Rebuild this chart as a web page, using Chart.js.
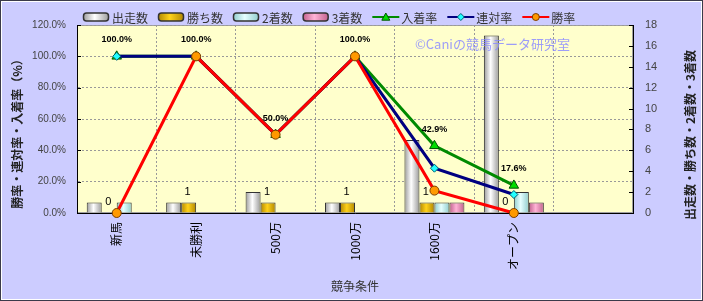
<!DOCTYPE html>
<html>
<head>
<meta charset="utf-8">
<script src="https://cdn.jsdelivr.net/npm/chart.js@4/dist/chart.umd.min.js"></script>
<style>
html, body { margin: 0; padding: 0; background: #fff; }
#wrap { width: 703px; height: 301px; }
</style>
</head>
<body>
<div id="wrap"><canvas id="chart" width="703" height="301"></canvas></div>
<script>
// data
const categories = ['新馬', '未勝利', '500万', '1000万', '1600万', 'オープン', ''];
const starts  = [1, 1, 2, 1, 7, 17, null];
const wins    = [0, 1, 1, 1, 1, 0, null];
const seconds = [1, 0, 0, 0, 1, 2, null];
const thirds  = [0, 0, 0, 0, 1, 1, null];
const placeRate  = [100, 100, 50, 100, 42.9, 17.6, null];
const rentaiRate = [100, 100, 50, 100, 28.6, 11.8, null];
const winRate    = [0, 100, 50, 100, 14.3, 0, null];
const rateTicks  = [0, 20, 40, 60, 80, 100, 120];
const countTicks = [0, 2, 4, 6, 8, 10, 12, 14, 16, 18];

const JP = "'Noto Sans CJK JP', sans-serif";
const LAT = "'Liberation Sans', Arial, sans-serif";
const CAT_PCT = 0.755;

// cylinder-like fills: edge, centre, edge
const GRAY  = ['#9a9a9a', '#ffffff', '#9a9a9a'];
const GOLD  = ['#b08600', '#ffd21a', '#b08600'];
const CYAN  = ['#8fcccc', '#e6ffff', '#8fcccc'];
const PINK  = ['#c0608c', '#ffb3d6', '#c0608c'];

function barFill(stops, slot) {
    return function (c) {
        const chart = c.chart;
        const x = chart.scales.x;
        if (!chart.chartArea || !x || c.dataIndex === undefined) return stops[1];
        const catW = x.width / categories.length;
        const barW = catW * CAT_PCT / 4;
        const left = x.getPixelForValue(c.dataIndex) - 2 * barW + slot * barW;
        const g = chart.ctx.createLinearGradient(left, 0, left + barW, 0);
        g.addColorStop(0, stops[0]);
        g.addColorStop(0.45, stops[1]);
        g.addColorStop(1, stops[2]);
        return g;
    };
}

function barSet(label, data, stops, slot) {
    return {
        type: 'bar', label: label, data: data, yAxisID: 'y1',
        backgroundColor: barFill(stops, slot), stops: stops,
        borderColor: '#333', borderWidth: 1,
        barPercentage: 1, categoryPercentage: CAT_PCT,
        order: 10 + slot
    };
}

function lineSet(label, data, color, style, fill, edge, r, order) {
    return {
        type: 'line', label: label, data: data, yAxisID: 'y',
        borderColor: color, borderWidth: 3, tension: 0,
        pointStyle: style, pointRadius: r, pointHoverRadius: r,
        pointBackgroundColor: fill, pointBorderColor: edge, pointBorderWidth: 1,
        clip: false, order: order
    };
}

function marker(ctx, style, x, y, r, fill, edge) {
    ctx.beginPath();
    if (style === 'triangle') {
        ctx.moveTo(x, y - r);
        ctx.lineTo(x + r, y + r * 0.8);
        ctx.lineTo(x - r, y + r * 0.8);
        ctx.closePath();
    } else if (style === 'rectRot') {
        ctx.moveTo(x, y - r); ctx.lineTo(x + r, y); ctx.lineTo(x, y + r); ctx.lineTo(x - r, y);
        ctx.closePath();
    } else {
        ctx.arc(x, y, r, 0, Math.PI * 2);
    }
    ctx.fillStyle = fill; ctx.fill();
    ctx.strokeStyle = edge; ctx.lineWidth = 1; ctx.stroke();
}

const frame = {
    id: 'frame',
    beforeDraw(chart) {
        const { ctx, width, height, chartArea: a } = chart;
        ctx.save();
        ctx.fillStyle = '#ccccff';
        ctx.fillRect(0, 0, width, height);
        ctx.lineWidth = 1;
        ctx.strokeStyle = '#ffffff';
        ctx.strokeRect(1.5, 1.5, width - 3, height - 3);
        ctx.strokeStyle = '#3a3a4a';
        ctx.strokeRect(0.5, 0.5, width - 1, height - 1);
        ctx.fillStyle = '#ffffcc';
        ctx.fillRect(a.left, a.top, a.width, a.height);
        ctx.strokeStyle = '#a0a0a0';
        ctx.strokeRect(a.left + 0.5, a.top + 0.5, a.width - 1, a.height - 1);
        ctx.restore();
    },
    afterDatasetsDraw(chart) {
        const ctx = chart.ctx;
        ctx.save();
        // watermark
        ctx.font = '13px ' + JP;
        ctx.fillStyle = 'rgba(140,140,255,0.85)';
        ctx.textAlign = 'left';
        ctx.textBaseline = 'middle';
        ctx.fillText('©Caniの競馬データ研究室', 415, 44);

        // labels over the place-rate points
        const pm = chart.getDatasetMeta(4);
        ctx.font = 'bold 9px ' + LAT;
        ctx.fillStyle = '#000';
        ctx.textAlign = 'center';
        ctx.textBaseline = 'alphabetic';
        pm.data.forEach((p, i) => {
            if (placeRate[i] == null) return;
            ctx.fillText(placeRate[i].toFixed(1) + '%', p.x, p.y - 14);
        });
        // labels over the win-count bars
        const wm = chart.getDatasetMeta(1);
        ctx.font = '11px ' + LAT;
        wm.data.forEach((b, i) => {
            if (wins[i] == null) return;
            ctx.fillText(String(wins[i]), b.x - 1, b.y - 8);
        });
        ctx.restore();
    },
    afterDraw(chart) {
        const ctx = chart.ctx;
        const a = chart.chartArea;
        ctx.save();
        // small inward ticks on both value axes
        ctx.strokeStyle = '#000';
        ctx.lineWidth = 1;
        ctx.beginPath();
        chart.scales.y.ticks.forEach(t => {
            const y = Math.round(chart.scales.y.getPixelForValue(t.value)) + 0.5;
            ctx.moveTo(a.left, y); ctx.lineTo(a.left + 4, y);
        });
        chart.scales.y1.ticks.forEach(t => {
            const y = Math.round(chart.scales.y1.getPixelForValue(t.value)) + 0.5;
            ctx.moveTo(a.right - 4, y); ctx.lineTo(a.right, y);
        });
        ctx.stroke();

        // axis titles, both read bottom to top
        ctx.fillStyle = '#222';
        ctx.font = 'bold 12px ' + JP;
        ctx.textAlign = 'center';
        ctx.textBaseline = 'middle';
        ctx.save();
        ctx.translate(17, 131);
        ctx.rotate(-Math.PI / 2);
        ctx.fillText('勝率・連対率・入着率（%）', 0, 0);
        ctx.restore();
        ctx.save();
        ctx.translate(690, 135);
        ctx.rotate(-Math.PI / 2);
        ctx.fillText('出走数・勝ち数・2着数・3着数', 0, 0);
        ctx.restore();

        // legend
        let x = 83;
        const yc = 17;
        ctx.font = '12px ' + JP;
        ctx.textAlign = 'left';
        chart.data.datasets.forEach(ds => {
            if (ds.type === 'bar') {
                const g = ctx.createLinearGradient(x, 0, x + 26, 0);
                g.addColorStop(0, ds.stops[0]);
                g.addColorStop(0.45, ds.stops[1]);
                g.addColorStop(1, ds.stops[2]);
                ctx.beginPath();
                ctx.roundRect(x + 0.5, yc - 4, 25, 8, 3);
                ctx.fillStyle = g; ctx.fill();
                ctx.strokeStyle = '#333'; ctx.lineWidth = 1.5; ctx.stroke();
            } else {
                ctx.beginPath();
                ctx.moveTo(x, yc); ctx.lineTo(x + 27, yc);
                ctx.strokeStyle = ds.borderColor; ctx.lineWidth = 2; ctx.stroke();
                marker(ctx, ds.pointStyle, x + 13.5, yc, ds.pointStyle === 'triangle' ? 4 : 3.5,
                       ds.pointBackgroundColor, ds.pointBorderColor);
            }
            ctx.fillStyle = '#333';
            ctx.fillText(ds.label, x + 29, yc + 1);
            x += 29 + ctx.measureText(ds.label).width + 10;
        });
        ctx.restore();
    }
};

new Chart(document.getElementById('chart'), {
    data: {
        labels: categories,
        datasets: [
            barSet('出走数', starts, GRAY, 0),
            barSet('勝ち数', wins, GOLD, 1),
            barSet('2着数', seconds, CYAN, 2),
            barSet('3着数', thirds, PINK, 3),
            lineSet('入着率', placeRate, '#008a00', 'triangle', '#00dd00', '#005500', 5.5, 3),
            lineSet('連対率', rentaiRate, '#000080', 'rectRot', '#22ffff', '#006070', 4, 2),
            lineSet('勝率', winRate, '#ff0000', 'circle', '#ff9900', '#7a3d00', 4.5, 1)
        ]
    },
    options: {
        responsive: false,
        animation: false,
        devicePixelRatio: 1,
        layout: { padding: { top: 25, left: 0, right: 0, bottom: 0 } },
        plugins: { legend: { display: false }, tooltip: { enabled: false } },
        scales: {
            x: {
                grid: { color: '#999', drawTicks: false },
                border: { color: '#000', width: 1, dash: [2, 2] },
                ticks: {
                    autoSkip: false, maxRotation: 90, minRotation: 90, padding: 9,
                    color: '#000', font: { family: JP, size: 12 }
                },
                title: {
                    display: true, text: '競争条件', color: '#333',
                    font: { family: JP, size: 12 }, padding: { top: 0, bottom: 7 }
                },
                afterFit: s => { s.height = 88; }
            },
            y: {
                position: 'left',
                min: rateTicks[0], max: rateTicks[rateTicks.length - 1],
                afterBuildTicks: s => { s.ticks = rateTicks.map(v => ({ value: v })); },
                grid: { color: '#999', drawTicks: false },
                border: { color: '#000', width: 1, dash: [2, 2] },
                ticks: {
                    padding: 11, color: '#444', font: { family: LAT, size: 10 },
                    callback: v => v.toFixed(1) + '%'
                },
                afterFit: s => { s.width = 77; }
            },
            y1: {
                position: 'right',
                min: countTicks[0], max: countTicks[countTicks.length - 1],
                afterBuildTicks: s => { s.ticks = countTicks.map(v => ({ value: v })); },
                grid: { drawOnChartArea: false, drawTicks: false },
                border: { color: '#000', width: 1 },
                ticks: { padding: 12, color: '#444', font: { family: LAT, size: 11 } },
                afterFit: s => { s.width = 70; }
            }
        }
    },
    plugins: [frame]
});
</script>
</body>
</html>
